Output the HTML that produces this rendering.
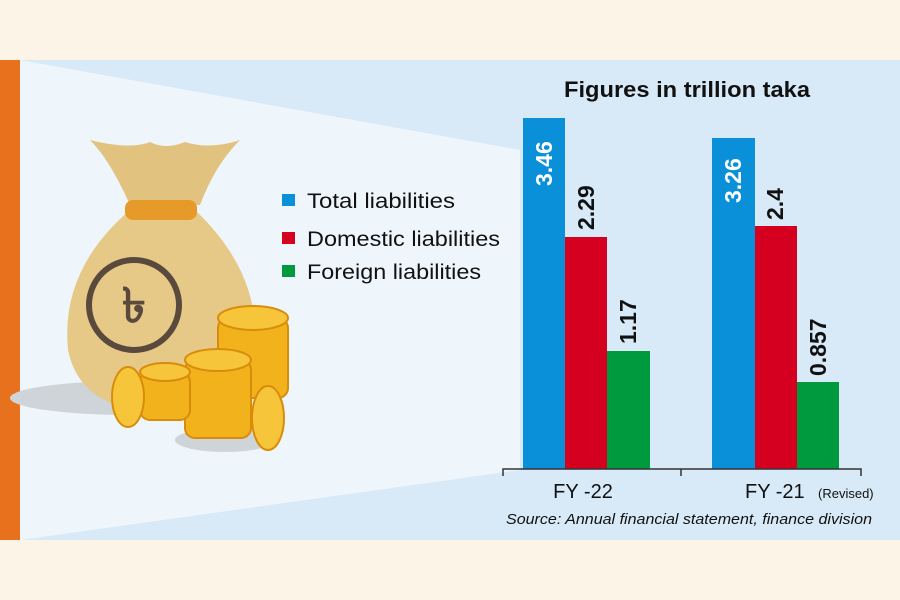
<!DOCTYPE html>
<html><head><style>
body{margin:0;width:900px;height:600px;background:#fdf4e8;overflow:hidden;font-family:"Liberation Sans",sans-serif}
</style></head><body>
<svg width="900" height="600" viewBox="0 0 900 600" xmlns="http://www.w3.org/2000/svg" style="position:absolute;left:0;top:0">
<rect x="0" y="0" width="900" height="600" fill="#fdf4e8"/>
<rect x="20" y="60" width="880" height="480" fill="#d8eaf7"/>
<polygon points="20,60 520,150 520,470 20,540" fill="#eef6fc"/>
<rect x="0" y="60" width="20" height="480" fill="#e8711e"/>
<!-- shadow -->
<ellipse cx="130" cy="398" rx="120" ry="17" fill="#cfd4d8"/>
<ellipse cx="225" cy="440" rx="50" ry="12" fill="#cfd4d8"/>
<!-- bag -->
<path d="M130,205 Q110,160 90,140 Q130,150 150,142 Q165,150 185,142 Q210,150 240,140 Q215,165 200,205 Z" fill="#e1c27e"/>
<path d="M130,210 Q60,270 68,350 Q80,410 160,412 Q240,412 255,340 Q258,270 195,210 Z" fill="#e6c987"/>
<rect x="125" y="200" width="72" height="20" rx="8" fill="#e59a2a"/>
<circle cx="134" cy="305" r="45" fill="none" stroke="#5a4a3e" stroke-width="6"/>
<text x="134" y="322" font-size="48" text-anchor="middle" fill="#5a4a3e" font-weight="bold">৳</text>
<!-- coins -->
<g fill="#f1b21b" stroke="#d98c0c" stroke-width="2">
<rect x="218" y="318" width="70" height="80" rx="10"/><ellipse cx="253" cy="318" rx="35" ry="12" fill="#f6c53a"/>
<rect x="185" y="360" width="66" height="78" rx="10"/><ellipse cx="218" cy="360" rx="33" ry="11" fill="#f6c53a"/>
<rect x="140" y="372" width="50" height="48" rx="10"/><ellipse cx="165" cy="372" rx="25" ry="9" fill="#f6c53a"/>
<ellipse cx="128" cy="397" rx="16" ry="30" fill="#f6c53a"/>
<ellipse cx="268" cy="418" rx="16" ry="32" fill="#f6c53a"/>
</g>
<!-- legend -->
<rect x="282" y="194" width="13" height="12" fill="#0a8fd9"/>
<rect x="282" y="232" width="13" height="12" fill="#d5001f"/>
<rect x="282" y="265" width="13" height="12" fill="#009a3e"/>
<g font-size="21" fill="#111">
<text x="307" y="208" textLength="148" lengthAdjust="spacingAndGlyphs">Total liabilities</text>
<text x="307" y="246" textLength="193" lengthAdjust="spacingAndGlyphs">Domestic liabilities</text>
<text x="307" y="279" textLength="174" lengthAdjust="spacingAndGlyphs">Foreign liabilities</text>
</g>
<text x="564" y="97" font-size="22" font-weight="bold" fill="#111" textLength="246" lengthAdjust="spacingAndGlyphs">Figures in trillion taka</text>
<!-- bars -->
<rect x="523" y="118" width="42" height="351" fill="#0a8fd9"/>
<rect x="565" y="237" width="42" height="232" fill="#d5001f"/>
<rect x="607" y="351" width="43" height="118" fill="#009a3e"/>
<rect x="712" y="138" width="43" height="331" fill="#0a8fd9"/>
<rect x="755" y="226" width="42" height="243" fill="#d5001f"/>
<rect x="797" y="382" width="42" height="87" fill="#009a3e"/>
<g font-size="23" font-weight="bold">
<text transform="translate(552,186) rotate(-90)" fill="#fff">3.46</text>
<text transform="translate(594,230) rotate(-90)" fill="#111">2.29</text>
<text transform="translate(636,344) rotate(-90)" fill="#111">1.17</text>
<text transform="translate(741,203) rotate(-90)" fill="#fff">3.26</text>
<text transform="translate(783,220) rotate(-90)" fill="#111">2.4</text>
<text transform="translate(826,376) rotate(-90)" fill="#111">0.857</text>
</g>
<path d="M503,476 V469 H861 V476 M681,469 V476" fill="none" stroke="#333" stroke-width="1.5"/>
<text x="583" y="498" font-size="20" text-anchor="middle" fill="#111">FY -22</text>
<text x="745" y="498" font-size="20" fill="#111">FY -21</text>
<text x="818" y="498" font-size="13" fill="#111">(Revised)</text>
<text x="506" y="524" font-size="15" font-style="italic" fill="#111" textLength="366" lengthAdjust="spacingAndGlyphs">Source: Annual financial statement, finance division</text>
</svg>
</body></html>
